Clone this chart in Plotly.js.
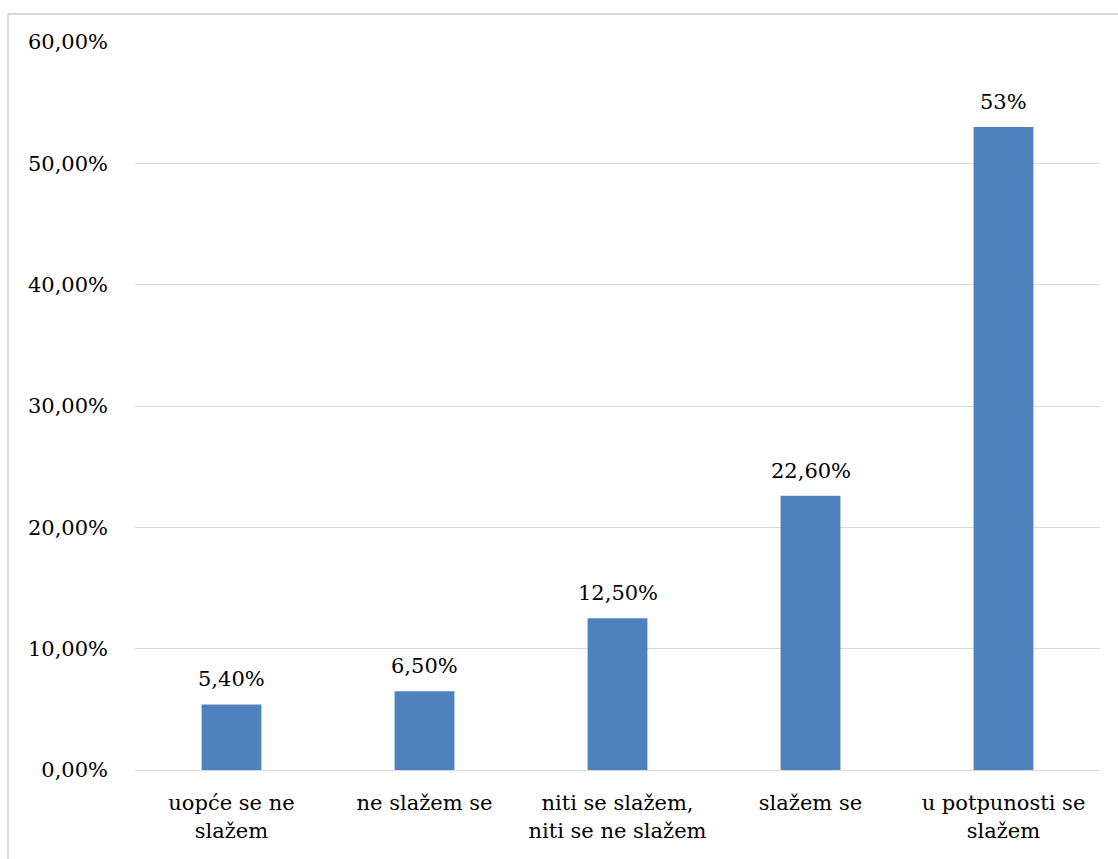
<!DOCTYPE html>
<html>
<head>
<meta charset="utf-8">
<script src="https://cdn.plot.ly/plotly-3.0.1.min.js"></script>
<style>
  html, body { margin: 0; padding: 0; background: #fff; }
  #frame { position: absolute; left: 7px; top: 13px; width: 1120px; height: 860px; border: 2px solid #d9d9d9; box-sizing: border-box; }
  #chart { position: absolute; left: 0; top: 0; width: 1118px; height: 859px; }
</style>
</head>
<body>
<div id="frame"></div>
<div id="chart"></div>
<script>
const categories = ["uopće se ne<br>slažem", "ne slažem se", "niti se slažem,<br>niti se ne slažem", "slažem se", "u potpunosti se<br>slažem"];
const values = [0.054, 0.065, 0.125, 0.226, 0.53];
const labels = ["5,40%", "6,50%", "12,50%", "22,60%", "53%"];
const tickValues = [0, 0.1, 0.2, 0.3, 0.4, 0.5, 0.6];

const font = "DejaVu Serif";

const annotations = categories.map((c, i) => ({
  x: c, y: values[i], xref: 'x', yref: 'y',
  text: labels[i], showarrow: false,
  yanchor: 'bottom', yshift: 11,
  font: { family: font, size: 21, color: '#000' }
}));

Plotly.newPlot('chart', [{
  type: 'bar',
  x: categories,
  y: values,
  marker: { color: '#4F81BD' },
  hoverinfo: 'none'
}], {
  width: 1118,
  height: 859,
  margin: { l: 135, r: 18, t: 42, b: 89 },
  paper_bgcolor: 'rgba(0,0,0,0)',
  plot_bgcolor: 'rgba(0,0,0,0)',
  separators: ',.',
  bargap: 0.69,
  showlegend: false,
  annotations: annotations,
  font: { family: font, size: 21, color: '#000' },
  xaxis: {
    showgrid: false,
    showline: true,
    linecolor: '#d9d9d9',
    linewidth: 1,
    ticks: '',
    ticklabelstandoff: 14,
    tickfont: { family: font, size: 21, color: '#000' }
  },
  yaxis: {
    range: [0, 0.6],
    tickvals: tickValues,
    tickformat: '.2%',
    showgrid: true,
    gridcolor: '#d9d9d9',
    gridwidth: 1,
    zeroline: false,
    showline: false,
    ticks: '',
    ticklabelstandoff: 26,
    tickfont: { family: font, size: 21, color: '#000' }
  }
}, { staticPlot: true });
</script>
</body>
</html>
